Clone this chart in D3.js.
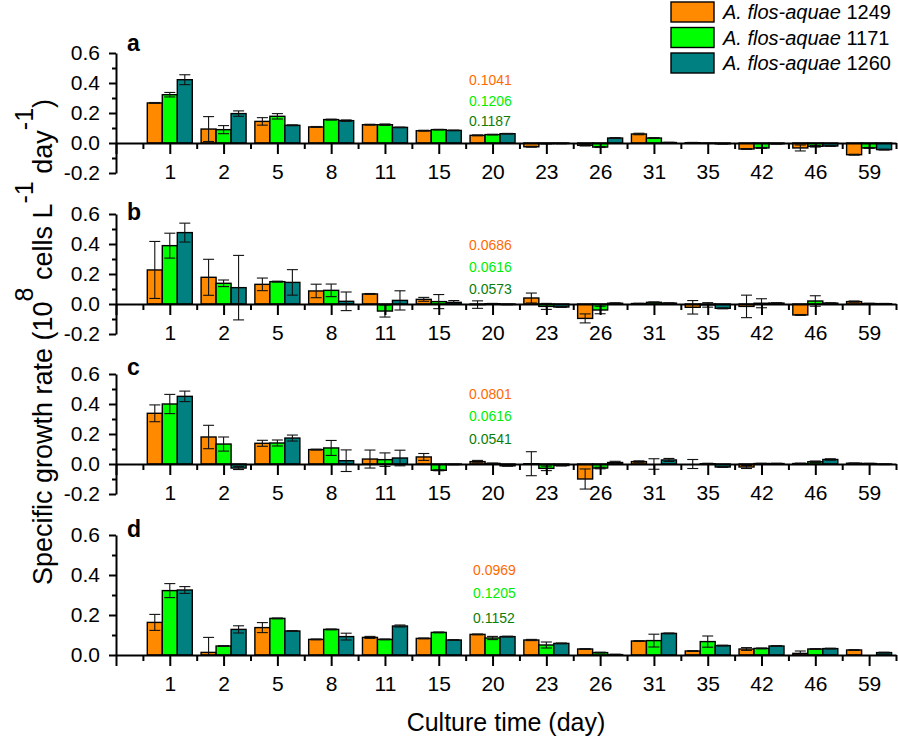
<!DOCTYPE html>
<html><head><meta charset="utf-8">
<script src="https://cdn.jsdelivr.net/npm/d3@7"></script>
<style>
body{margin:0;background:#fff}
svg{display:block;font-family:Arial,"Liberation Sans",sans-serif}
</style>
</head><body>
<svg id="chart" width="898" height="739"></svg>
<script>
// ---------- DATA ----------
const days = ["1","2","5","8","11","15","20","23","26","31","35","42","46","59"];
const strains = ["1249","1171","1260"];
const panelLetters = ["a","b","c","d"];
const yTickLabelsABC = ["-0.2","0.0","0.2","0.4","0.6"];
const yTickValuesABC = [-0.2,0,0.2,0.4,0.6];
const yTickLabelsD = ["0.0","0.2","0.4","0.6"];
const yTickValuesD = [0,0.2,0.4,0.6];

// panel a
const a1249 = [0.267,0.093,0.144,0.107,0.122,0.082,0.051,-0.025,-0.015,0.060,0.002,-0.040,-0.033,-0.078];
const a1249Err = [0.003,0.083,0.025,0.003,0.003,0.003,0.003,0.003,0.005,0.005,0.002,0.003,0.020,0.003];
const a1171 = [0.322,0.089,0.178,0.156,0.122,0.089,0.056,-0.004,-0.027,0.033,-0.002,-0.033,-0.022,-0.033];
const a1171Err = [0.015,0.027,0.018,0.003,0.005,0.002,0.002,0.002,0.003,0.003,0.001,0.003,0.005,0.003];
const a1260 = [0.422,0.196,0.118,0.149,0.104,0.084,0.062,-0.003,0.033,0.003,-0.005,-0.005,-0.020,-0.044];
const a1260Err = [0.033,0.018,0.003,0.005,0.002,0.002,0.002,0.002,0.003,0.002,0.002,0.002,0.003,0.003];
const aNotes = ["0.1041","0.1206","0.1187"];

// panel b
const b1249 = [0.227,0.178,0.131,0.087,0.067,0.031,-0.004,0.040,-0.096,0.003,-0.022,-0.016,-0.073,0.016];
const b1249Err = [0.190,0.120,0.042,0.045,0.003,0.013,0.025,0.033,0.030,0.002,0.045,0.075,0.003,0.004];
const b1171 = [0.389,0.138,0.149,0.091,-0.047,0.016,0.002,-0.016,-0.040,0.011,-0.006,0.005,0.020,0.003];
const b1171Err = [0.083,0.022,0.003,0.042,0.040,0.047,0.002,0.020,0.025,0.003,0.015,0.030,0.035,0.002];
const b1260 = [0.476,0.109,0.144,0.018,0.024,0.011,-0.003,-0.020,0.005,0.006,-0.029,0.006,0.006,0.002];
const b1260Err = [0.063,0.215,0.085,0.062,0.064,0.012,0.002,0.003,0.003,0.002,0.003,0.003,0.002,0.002];
const bNotes = ["0.0686","0.0616","0.0573"];

// panel c
const c1249 = [0.338,0.180,0.138,0.096,0.033,0.047,0.016,0.002,-0.100,0.016,0.000,-0.020,0.003,0.005];
const c1249Err = [0.056,0.078,0.020,0.003,0.060,0.023,0.008,0.080,0.067,0.005,0.030,0.010,0.003,0.002];
const c1171 = [0.400,0.133,0.140,0.107,0.029,-0.042,0.004,-0.029,-0.027,0.000,0.002,0.003,0.015,0.003];
const c1171Err = [0.064,0.047,0.020,0.050,0.045,0.003,0.002,0.015,0.005,0.035,0.003,0.002,0.005,0.002];
const c1260 = [0.451,-0.027,0.173,0.022,0.040,-0.003,-0.012,-0.010,0.010,0.027,-0.020,0.003,0.030,-0.002];
const c1260Err = [0.035,0.010,0.020,0.072,0.052,0.002,0.003,0.003,0.008,0.010,0.003,0.002,0.005,0.002];
const cNotes = ["0.0801","0.0616","0.0541"];

// panel d
const d1249 = [0.163,0.013,0.137,0.078,0.088,0.083,0.103,0.075,0.030,0.070,0.020,0.030,0.008,0.025];
const d1249Err = [0.040,0.075,0.025,0.002,0.005,0.002,0.002,0.003,0.002,0.002,0.002,0.007,0.012,0.002];
const d1171 = [0.322,0.045,0.183,0.128,0.078,0.113,0.085,0.050,0.012,0.072,0.067,0.033,0.030,0.000];
const d1171Err = [0.035,0.002,0.002,0.002,0.002,0.002,0.008,0.015,0.002,0.032,0.028,0.002,0.002,0.000];
const d1260 = [0.325,0.128,0.120,0.092,0.145,0.075,0.092,0.058,0.002,0.108,0.047,0.045,0.032,0.012];
const d1260Err = [0.017,0.018,0.002,0.017,0.005,0.002,0.002,0.002,0.002,0.002,0.002,0.002,0.002,0.002];
const dNotes = ["0.0969","0.1205","0.1152"];

// ---------- STYLE / LAYOUT ----------
const barColors = ["#ff8a00","#00ff00","#008080"];
const noteColors = ["#ff6a00","#00ee00","#0b7d0b"];
const FONT = 'Arial,"Liberation Sans",sans-serif';

const layout = [
  {vals:[a1249,a1171,a1260], errs:[a1249Err,a1171Err,a1260Err], notes:aNotes,
   dom:[-0.2,0.6], rng:[173,53], ticks:yTickValuesABC, labels:yTickLabelsABC, minor:[-0.1,0.1,0.3,0.5],
   letterY:51, noteX:469, noteY:[85,106,126]},
  {vals:[b1249,b1171,b1260], errs:[b1249Err,b1171Err,b1260Err], notes:bNotes,
   dom:[-0.2,0.6], rng:[334,214], ticks:yTickValuesABC, labels:yTickLabelsABC, minor:[-0.1,0.1,0.3,0.5],
   letterY:220, noteX:469, noteY:[250,272,294]},
  {vals:[c1249,c1171,c1260], errs:[c1249Err,c1171Err,c1260Err], notes:cNotes,
   dom:[-0.2,0.6], rng:[494,374], ticks:yTickValuesABC, labels:yTickLabelsABC, minor:[-0.1,0.1,0.3,0.5],
   letterY:375, noteX:469, noteY:[399,421,444]},
  {vals:[d1249,d1171,d1260], errs:[d1249Err,d1171Err,d1260Err], notes:dNotes,
   dom:[0,0.6], rng:[655,535], ticks:yTickValuesD, labels:yTickLabelsD, minor:[0.1,0.3,0.5],
   letterY:537, noteX:473, noteY:[575,598,623]}
];

const svg = d3.select("#chart");
const x = d3.scaleLinear().domain([0,14.5]).range([116,896]);
const BW = 15;

layout.forEach((p,pi)=>{
  const y = d3.scaleLinear().domain(p.dom).range(p.rng);
  const g = svg.append("g");
  const y0 = y(0);

  // bars
  p.vals.forEach((series,s)=>{
    g.selectAll(null).data(series).enter().append("rect")
      .attr("x",(d,i)=>x(i+1)+(s-1)*BW-BW/2)
      .attr("width",BW)
      .attr("y",d=>Math.min(y(d),y0))
      .attr("height",d=>Math.abs(y(d)-y0))
      .attr("fill",barColors[s])
      .attr("stroke","#000").attr("stroke-width",1.4);
  });
  // error bars
  p.vals.forEach((series,s)=>{
    const e = p.errs[s];
    series.forEach((v,i)=>{
      if(!e[i]) return;
      const cx = x(i+1)+(s-1)*BW;
      const lo = Math.max(v-e[i], p.dom[0]);
      const hi = v+e[i];
      g.append("line").attr("x1",cx).attr("x2",cx).attr("y1",y(lo)).attr("y2",y(hi))
        .attr("stroke","#111").attr("stroke-width",1.1);
      g.append("line").attr("x1",cx-5.5).attr("x2",cx+5.5).attr("y1",y(hi)).attr("y2",y(hi))
        .attr("stroke","#111").attr("stroke-width",1.1);
      if(v-e[i] >= p.dom[0])
        g.append("line").attr("x1",cx-5.5).attr("x2",cx+5.5).attr("y1",y(lo)).attr("y2",y(lo))
          .attr("stroke","#111").attr("stroke-width",1.1);
    });
  });

  // x axis (major + minor)
  const xMaj = d3.axisBottom(x).tickValues(d3.range(0,15))
      .tickFormat(d=> d>=1 ? days[d-1] : "").tickSize(11).tickSizeOuter(0).tickPadding(10);
  const gx = g.append("g").attr("transform",`translate(0,${y0})`).call(xMaj);
  const xMin = d3.axisBottom(x).tickValues(d3.range(0.5,15,1)).tickFormat("").tickSize(6).tickSizeOuter(0);
  const gxm = g.append("g").attr("transform",`translate(0,${y0})`).call(xMin);
  gxm.select(".domain").remove();

  // y axis
  const yMaj = d3.axisLeft(y).tickValues(p.ticks).tickFormat((d,i)=>p.labels[i]).tickSize(7).tickSizeOuter(0).tickPadding(9);
  const gy = g.append("g").attr("transform",`translate(${x(0)},0)`).call(yMaj);
  const yMin = d3.axisLeft(y).tickValues(p.minor).tickFormat("").tickSize(4).tickSizeOuter(0);
  const gym = g.append("g").attr("transform",`translate(${x(0)},0)`).call(yMin);
  gym.select(".domain").remove();

  [gx,gxm,gy,gym].forEach(a=>{
    a.selectAll("path,line").attr("stroke","#000").attr("stroke-width",2);
    a.selectAll("text").attr("font-size",21).attr("font-family",FONT).attr("fill","#000");
  });

  // panel letter
  g.append("text").attr("x",127).attr("y",p.letterY).text(panelLetters[pi])
    .attr("font-size",23).attr("font-weight","bold").attr("font-family",FONT);

  // mean notes
  p.notes.forEach((t,k)=>{
    g.append("text").attr("x",p.noteX).attr("y",p.noteY[k]).text(t)
      .attr("font-size",14).attr("fill",noteColors[k]).attr("font-family",FONT);
  });
});

// legend
const lg = svg.append("g");
strains.forEach((s,k)=>{
  lg.append("rect").attr("x",671).attr("y",2+k*25.5).attr("width",43).attr("height",20)
    .attr("fill",barColors[k]).attr("stroke","#000").attr("stroke-width",1.4);
  const t = lg.append("text").attr("x",723).attr("y",19+k*25.5).attr("font-size",20).attr("font-family",FONT);
  t.append("tspan").attr("font-style","italic").text("A. flos-aquae");
  t.append("tspan").text(" "+s);
});

// axis titles
svg.append("text").attr("x",506).attr("y",731).attr("text-anchor","middle")
  .attr("font-size",25).attr("font-family",FONT).text("Culture time (day)");

const yl = svg.append("text").attr("transform","translate(52,342) rotate(-90)")
  .attr("text-anchor","middle").attr("font-size",27).attr("font-family",FONT);
yl.append("tspan").text("Specific growth rate (10");
yl.append("tspan").attr("dy",-19).attr("font-size",25).text("8");
yl.append("tspan").attr("dy",19).text(" cells L");
yl.append("tspan").attr("dy",-19).attr("font-size",25).text("-1");
yl.append("tspan").attr("dy",19).text(" day");
yl.append("tspan").attr("dy",-19).attr("font-size",25).text("-1");
yl.append("tspan").attr("dy",19).text(")");
</script>
</body></html>
